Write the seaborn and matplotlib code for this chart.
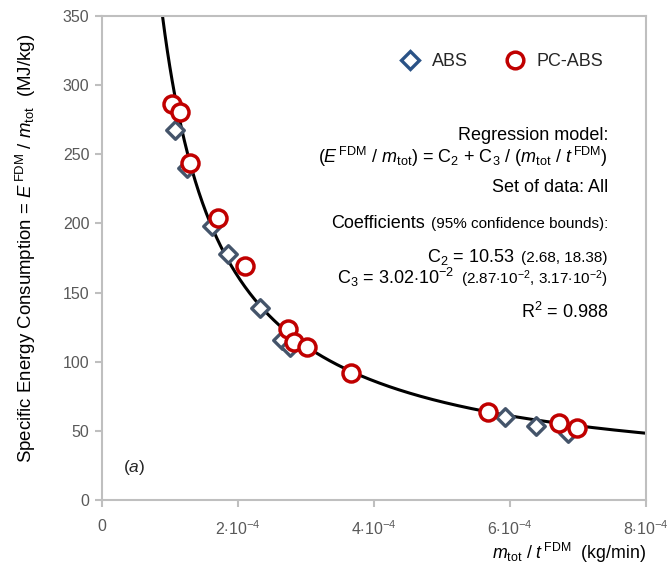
import numpy as np
import pandas as pd
import matplotlib
matplotlib.use("Agg")
import matplotlib.pyplot as plt
import seaborn as sns
from matplotlib.lines import Line2D
from matplotlib.offsetbox import TextArea, HPacker, AnnotationBbox

# ---------------- data ----------------
abs_x = [1.077e-4, 1.25e-4, 1.62e-4, 1.86e-4, 2.33e-4, 2.64e-4, 2.77e-4, 5.92e-4, 6.38e-4, 6.85e-4]
abs_y = [267.7, 240.0, 198.4, 178.0, 139.0, 115.4, 111.0, 60.0, 53.4, 48.3]
pcabs_x = [1.03e-4, 1.15e-4, 1.30e-4, 1.71e-4, 2.11e-4, 2.74e-4, 2.83e-4, 3.02e-4, 3.66e-4, 5.67e-4, 6.72e-4, 6.98e-4]
pcabs_y = [286.4, 280.6, 244.0, 204.0, 169.5, 124.0, 114.5, 110.5, 91.6, 63.5, 55.6, 52.0]
C2 = 10.53
C3 = 3.02e-2
x_ticks = [0, 2e-4, 4e-4, 6e-4, 8e-4]
x_ticklabels = ["0", r"2$\cdot$10$^{-4}$", r"4$\cdot$10$^{-4}$", r"6$\cdot$10$^{-4}$", r"8$\cdot$10$^{-4}$"]
y_ticks = [0, 50, 100, 150, 200, 250, 300, 350]

sns.set_theme(style="white")
plt.rcParams["font.family"] = ["Liberation Sans", "DejaVu Sans"]
plt.rcParams["mathtext.fontset"] = "custom"
plt.rcParams["mathtext.rm"] = "Liberation Sans"
plt.rcParams["mathtext.it"] = "Liberation Sans:italic"
plt.rcParams["mathtext.bf"] = "Liberation Sans:bold"

fig = plt.figure(figsize=(6.71, 5.67), dpi=100)
ax = fig.add_axes([102/671, 1-500/567, 544/671, 484/567])

# regression curve
xc = np.linspace(C3/(350-C2), 8e-4, 400)
curve = pd.DataFrame({"x": xc, "y": C2 + C3/xc})
sns.lineplot(data=curve, x="x", y="y", ax=ax, color="black", linewidth=2.2, zorder=2)

df_abs = pd.DataFrame({"x": abs_x, "y": abs_y})
df_pc = pd.DataFrame({"x": pcabs_x, "y": pcabs_y})
sns.scatterplot(data=df_abs, x="x", y="y", ax=ax, marker="D", s=80, color="white",
                edgecolor="#44546a", linewidth=2.4, zorder=3)
sns.scatterplot(data=df_pc, x="x", y="y", ax=ax, marker="o", s=150, color="white",
                edgecolor="#c00000", linewidth=2.5, zorder=4)

ax.set_xlim(0, 8e-4)
ax.set_ylim(0, 350)
ax.set_xticks(x_ticks)
ax.set_xticklabels(x_ticklabels)
ax.set_yticks(y_ticks)
for s in ax.spines.values():
    s.set_color("#bfbfbf")
    s.set_linewidth(1.5)
ax.tick_params(axis="both", colors="#bfbfbf", labelcolor="#595959", labelsize=11.5,
               direction="out", length=5, width=1.5)
ax.tick_params(axis="x", pad=9, bottom=True)
ax.tick_params(axis="y", left=True, pad=4)

ax.set_ylabel(r"Specific Energy Consumption = $\mathit{E}^{\,\mathrm{FDM}}$ / $\mathit{m}_{\mathrm{tot}}$  (MJ/kg)",
              fontsize=13.4, color="black")
ax.yaxis.set_label_coords(-0.117, 0.52)
ax.set_xlabel(r"$\mathit{m}_{\mathrm{tot}}$ / $\mathit{t}^{\,\mathrm{FDM}}$  (kg/min)",
              fontsize=12.8, color="black", loc="right")
ax.xaxis.set_label_coords(1.0, -0.085)

# legend
handles = [Line2D([], [], marker="D", linestyle="none", markersize=9, markerfacecolor="white",
                  markeredgecolor="#2a5286", markeredgewidth=2.4, label="ABS"),
           Line2D([], [], marker="o", linestyle="none", markersize=12, markerfacecolor="white",
                  markeredgecolor="#c00000", markeredgewidth=2.5, label="PC-ABS")]
ax.legend(handles=handles, loc="center right", bbox_to_anchor=(0.951, 0.905), ncol=2,
          frameon=False, fontsize=13, columnspacing=2.0, handletextpad=0.6, handlelength=1.2)

big = 13
small = 11

def rline(parts, y, sep=0):
    boxes = [TextArea(t, textprops=dict(fontsize=fs, color="black")) for t, fs in parts]
    pack = HPacker(children=boxes, align="baseline", pad=0, sep=sep)
    ab = AnnotationBbox(pack, (0.93, y), xycoords="axes fraction", box_alignment=(1, 0.5),
                        frameon=False, pad=0)
    ax.add_artist(ab)

rline([("Regression model:", big)], 0.754)
rline([(r"($\mathit{E}^{\,\mathrm{FDM}}$ / $\mathit{m}_{\mathrm{tot}}$) = C$_2$ + C$_3$ / ($\mathit{m}_{\mathrm{tot}}$ / $\mathit{t}^{\,\mathrm{FDM}}$)", big)], 0.709)
rline([("Set of data: All", big)], 0.645)
rline([("Coefficients", big), ("(95% confidence bounds):", small)], 0.572, sep=4)
rline([(r"C$_2$ = 10.53", big), ("(2.68, 18.38)", small)], 0.502, sep=5)
rline([(r"C$_3$ = 3.02$\cdot$10$^{-2}$", big), (r"(2.87$\cdot$10$^{-2}$, 3.17$\cdot$10$^{-2}$)", small)], 0.459, sep=5)
rline([(r"R$^2$ = 0.988", big)], 0.388)

ax.text(0.039, 0.068, r"($\mathit{a}$)", transform=ax.transAxes, fontsize=12.5, va="center", ha="left")

fig.savefig("out.png", dpi=100)
